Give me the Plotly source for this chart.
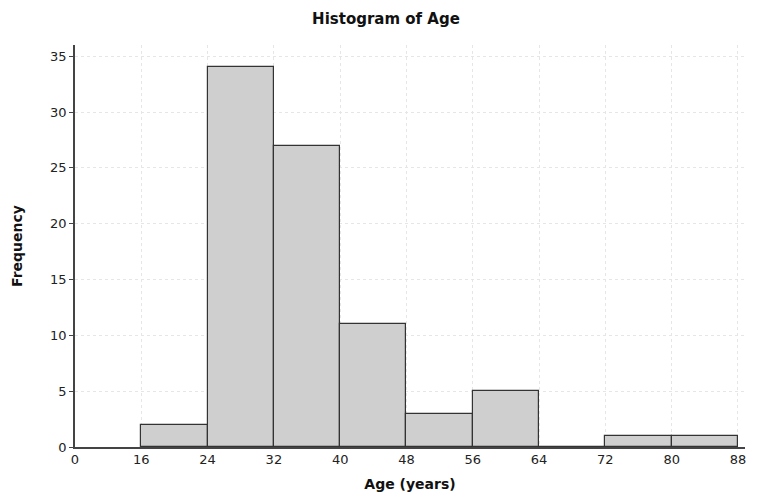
import plotly.graph_objects as go

bin_starts = [16, 24, 32, 40, 48, 56, 64, 72, 80]
bin_width = 8
counts = [2, 34, 27, 11, 3, 5, 0, 1, 1]
tick_vals = [8, 16, 24, 32, 40, 48, 56, 64, 72, 80, 88]
tick_text = ["0", "16", "24", "32", "40", "48", "56", "64", "72", "80", "88"]
y_ticks = [0, 5, 10, 15, 20, 25, 30, 35]

centers = [s + bin_width / 2 for s in bin_starts]

fig = go.Figure(go.Bar(
    x=centers, y=counts, width=[bin_width] * len(counts),
    marker=dict(color="#cfcfcf", line=dict(color="#333333", width=1.2)),
    showlegend=False,
))

font_family = "DejaVu Sans, Verdana, sans-serif"
fig.update_layout(
    width=756, height=494,
    margin=dict(l=67, r=19, t=37, b=55),
    paper_bgcolor="white", plot_bgcolor="white",
    title=dict(text="<b>Histogram of Age</b>", x=0.5, xanchor="center", y=0.978, yanchor="middle",
               font=dict(family=font_family, size=15, color="#111111")),
    bargap=0,
    font=dict(family=font_family, size=13, color="#222222"),
)
fig.update_xaxes(
    range=[8, 88.85], tickvals=tick_vals, ticktext=tick_text, automargin=False,
    showgrid=True, gridcolor="#e6e6e6", griddash="dot", gridwidth=1,
    showline=True, linecolor="#444444", linewidth=1.5,
    ticks="", zeroline=False,
    title=dict(text="<b>Age (years)</b>", font=dict(size=14, color="#111111"), standoff=13),
    tickfont=dict(size=13, color="#222222"),
)
fig.update_yaxes(
    range=[0, 36], tickvals=y_ticks, automargin=False,
    showgrid=True, gridcolor="#e6e6e6", griddash="dot", gridwidth=1,
    showline=True, linecolor="#444444", linewidth=1.5,
    ticks="outside", ticklen=4, tickcolor="#444444", zeroline=False,
    title=dict(text="<b>Frequency</b>", font=dict(size=14, color="#111111"), standoff=24),
    tickfont=dict(size=13, color="#222222"),
)

fig.write_html("out.html")
